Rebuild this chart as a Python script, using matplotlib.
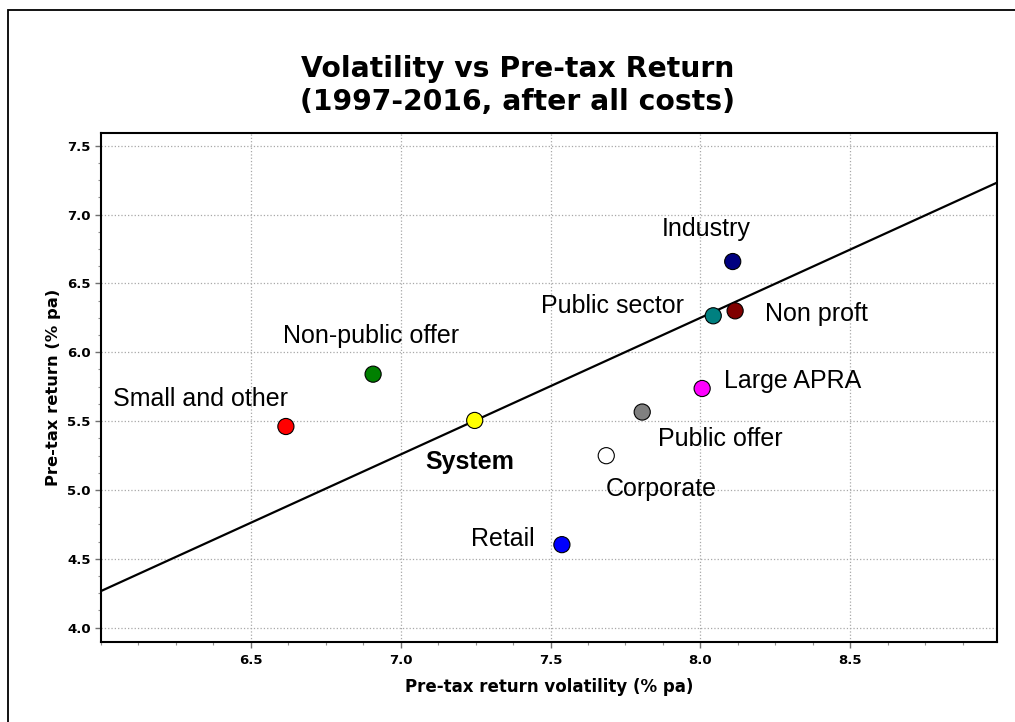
import matplotlib
matplotlib.use('Agg')
import matplotlib.pyplot as plt
from matplotlib.patches import Rectangle
from matplotlib.ticker import MultipleLocator
import numpy as np

# fund sectors: volatility (% pa) vs pre-tax return (% pa)
sectors = ['Small and other', 'Non-public offer', 'System', 'Retail', 'Corporate',
           'Public offer', 'Large APRA', 'Public sector', 'Non proft', 'Industry']
volatility = [6.617, 6.908, 7.247, 7.538, 7.686, 7.806, 8.006, 8.043, 8.116, 8.108]
returns = [5.461, 5.841, 5.505, 4.603, 5.249, 5.566, 5.737, 6.265, 6.301, 6.659]
colors = ['#FF0000', '#008000', '#FFFF00', '#0000FF', '#FFFFFF',
          '#808080', '#FF00FF', '#008080', '#800000', '#000080']

# trend line y = a + b * x
trend_intercept = -1.686
trend_slope = 0.992

x_limits = (6.0, 8.99)
y_limits = (3.896, 7.594)

# label placement: offset in pixels from the point, horizontal alignment
label_layout = {
    'Small and other': (-85, 20, 'center'),
    'Non-public offer': (-2, 31, 'center'),
    'System': (-5, -49, 'center'),
    'Retail': (-27, -1, 'right'),
    'Corporate': (-1, -40, 'left'),
    'Public offer': (16, -34, 'left'),
    'Large APRA': (22, 0, 'left'),
    'Public sector': (-29, 3, 'right'),
    'Non proft': (30, -10, 'left'),
    'Industry': (-27, 26, 'center'),
}

fig = plt.figure(figsize=(10.15, 7.22), dpi=100)
ax = fig.add_axes([0.0995, 0.1108, 0.8828, 0.7053])

# frame around the chart (only top and left edges fall inside the image)
fig.patches.append(Rectangle((8 / 1015, -0.05), 1.1, 1 - 10 / 722 + 0.05,
                             transform=fig.transFigure, fill=False,
                             edgecolor='black', linewidth=1.3))

xs = np.array(x_limits)
ax.plot(xs, trend_intercept + trend_slope * xs, color='black', linewidth=1.6, zorder=2)

ax.scatter(volatility, returns, s=135, c=colors, edgecolors='black',
           linewidths=0.8, zorder=3)

for name, x, y in zip(sectors, volatility, returns):
    dx, dy, ha = label_layout[name]
    ax.annotate(name, xy=(x, y), xytext=(dx, dy), textcoords='offset pixels',
                ha=ha, va='baseline', fontsize=18,
                family=['Liberation Sans', 'DejaVu Sans'],
                fontweight='bold' if name == 'System' else 'normal')

ax.set_xlim(*x_limits)
ax.set_ylim(*y_limits)
ax.xaxis.set_major_locator(MultipleLocator(0.5))
ax.xaxis.set_minor_locator(MultipleLocator(0.125))
ax.yaxis.set_major_locator(MultipleLocator(0.5))
ax.yaxis.set_minor_locator(MultipleLocator(0.125))
ax.set_xticks([6.5, 7.0, 7.5, 8.0, 8.5])
ax.xaxis.set_major_formatter(matplotlib.ticker.FormatStrFormatter('%.1f'))
ax.yaxis.set_major_formatter(matplotlib.ticker.FormatStrFormatter('%.1f'))

ax.grid(True, which='major', linestyle=':', color='#a8a8a8', linewidth=0.9)
ax.set_axisbelow(True)
for spine in ax.spines.values():
    spine.set_linewidth(1.5)
    spine.set_color('black')

ax.tick_params(which='major', length=4.5, width=1, color='#707070', pad=3)
ax.tick_params(axis='x', which='major', pad=4)
ax.tick_params(which='minor', length=2.2, width=0.8, color='#909090')
for lbl in ax.get_xticklabels() + ax.get_yticklabels():
    lbl.set_fontweight('bold')
    lbl.set_fontsize(9.5)
    lbl.set_family('DejaVu Sans')

ax.set_xlabel('Pre-tax return volatility (% pa)', fontsize=12, fontweight='bold')
ax.xaxis.set_label_coords(0.5, -0.0976)
ax.xaxis.label.set_va('baseline')
ax.set_ylabel('Pre-tax return (% pa)', fontsize=11.8, fontweight='bold')
ax.yaxis.set_label_coords(-0.0525, 0.5)
ax.yaxis.label.set_va('center')

fig.text(518 / 1015, 1 - 76.7 / 722, 'Volatility vs Pre-tax Return',
         ha='center', va='baseline', fontsize=20.3, fontweight='bold')
fig.text(518 / 1015, 1 - 110 / 722, '(1997-2016, after all costs)',
         ha='center', va='baseline', fontsize=20.3, fontweight='bold')

fig.savefig('out.png', dpi=100)
plt.close(fig)
